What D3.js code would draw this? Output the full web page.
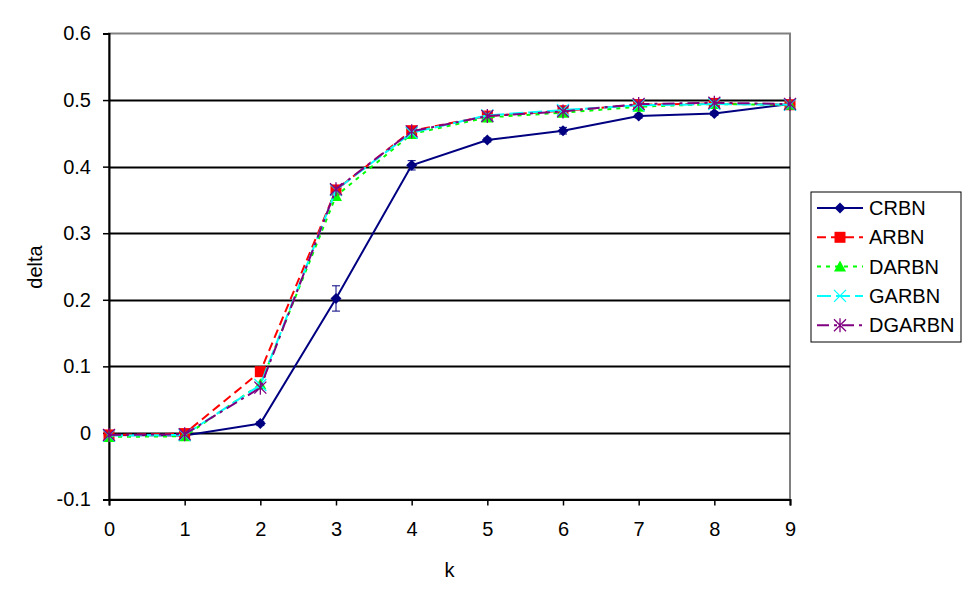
<!DOCTYPE html>
<html><head><meta charset="utf-8">
<script src="https://cdn.jsdelivr.net/npm/d3@7"></script>
<style>body{margin:0;background:#fff}svg{display:block}text{font-family:"Liberation Sans",Arial,sans-serif;fill:#000}</style>
</head><body><svg id="c" width="970" height="603"></svg>
<script>
const kValues = [0,1,2,3,4,5,6,7,8,9];
const seriesNames = ["CRBN","ARBN","DARBN","GARBN","DGARBN"];
const crbn   = [-0.003,-0.004,0.014,0.202,0.402,0.440,0.454,0.476,0.480,0.494];
const crbnErr= [0,0,0.003,0.019,0.007,0.003,0.005,0.003,0.003,0.002];
const arbn   = [-0.003,-0.001,0.092,0.365,0.454,0.476,0.484,0.493,0.495,0.493];
const darbn  = [-0.006,-0.005,0.073,0.356,0.449,0.474,0.481,0.490,0.494,0.493];
const garbn  = [-0.004,-0.003,0.072,0.365,0.451,0.477,0.485,0.492,0.494,0.493];
const dgarbn = [-0.003,-0.002,0.068,0.366,0.453,0.476,0.483,0.494,0.496,0.494];
const yTicks = [-0.1,0,0.1,0.2,0.3,0.4,0.5,0.6];

const styles = [
  {color:"#000080", dash:null, marker:"diamond"},
  {color:"#FF0000", dash:"9,5", marker:"square"},
  {color:"#00FF00", dash:"4,5", marker:"triangle"},
  {color:"#00FFFF", dash:"14,5", marker:"x"},
  {color:"#800080", dash:"12,5,3,5", marker:"star"}
];
const allSeries = [crbn,arbn,darbn,garbn,dgarbn];

const svg = d3.select("#c");
const L=109,R=790,T=33.5,B=499.5;
const x = d3.scaleLinear().domain([0,9]).range([L,R]);
const y = d3.scaleLinear().domain([-0.1,0.6]).range([B,T]);

svg.append("rect").attr("x",L).attr("y",T).attr("width",R-L).attr("height",B-T)
  .attr("fill","#fff").attr("stroke","#808080").attr("stroke-width",2);
svg.append("g").selectAll("line").data(yTicks.filter(v=>v>-0.1&&v<0.6)).join("line")
  .attr("x1",L).attr("x2",R).attr("y1",d=>Math.round(y(d))+0.5).attr("y2",d=>Math.round(y(d))+0.5)
  .attr("stroke","#000").attr("stroke-width",2);

const fmt = d=> Math.abs(d)<1e-9?"0":(d<0?"-":"")+Math.abs(d).toFixed(1);
const yAxis = svg.append("g").attr("transform",`translate(${L},0)`)
  .call(d3.axisLeft(y).tickValues(yTicks).tickFormat(fmt).tickSize(6).tickPadding(12));
const xAxis = svg.append("g").attr("transform",`translate(0,${B})`)
  .call(d3.axisBottom(x).tickValues(kValues).tickFormat(d3.format("d")).tickSize(6).tickPadding(16));
[yAxis,xAxis].forEach(a=>{
  a.attr("font-size",20).attr("font-family","Liberation Sans, Arial, sans-serif");
  a.select(".domain").attr("stroke","#000").attr("stroke-width",2);
  a.selectAll(".tick line").attr("stroke","#000").attr("stroke-width",1.5);
  a.selectAll("text").attr("font-size",20).attr("fill","#000");
});

svg.append("text").attr("x",(L+R)/2).attr("y",577).attr("text-anchor","middle").attr("font-size",20).text("k");
svg.append("text").attr("transform","translate(42,267) rotate(-90)").attr("text-anchor","middle").attr("font-size",20).text("delta");

function drawMarker(g, type, cx, cy, color){
  if(type==="diamond"){
    g.append("path").attr("d",`M${cx},${cy-5.5}L${cx+5.5},${cy}L${cx},${cy+5.5}L${cx-5.5},${cy}Z`).attr("fill",color);
  } else if(type==="square"){
    g.append("rect").attr("x",cx-5.5).attr("y",cy-5.5).attr("width",11).attr("height",11).attr("fill",color);
  } else if(type==="triangle"){
    g.append("path").attr("d",`M${cx},${cy-6}L${cx+6},${cy+5}L${cx-6},${cy+5}Z`).attr("fill",color);
  } else if(type==="x"){
    g.append("path").attr("d",`M${cx-6},${cy-6}L${cx+6},${cy+6}M${cx-6},${cy+6}L${cx+6},${cy-6}`).attr("stroke",color).attr("stroke-width",1.3);
  } else if(type==="star"){
    g.append("path").attr("d",`M${cx-6},${cy-6}L${cx+6},${cy+6}M${cx-6},${cy+6}L${cx+6},${cy-6}M${cx},${cy-7}L${cx},${cy+7}`).attr("stroke",color).attr("stroke-width",1.3);
  }
}

const eg = svg.append("g");
kValues.forEach((k,i)=>{
  if(crbnErr[i]<=0) return;
  const cx=x(k), y1=y(crbn[i]+crbnErr[i]), y2=y(crbn[i]-crbnErr[i]);
  eg.append("line").attr("x1",cx).attr("x2",cx).attr("y1",y1).attr("y2",y2).attr("stroke","#000080").attr("stroke-width",1);
  [y1,y2].forEach(yy=>eg.append("line").attr("x1",cx-4).attr("x2",cx+4).attr("y1",yy).attr("y2",yy).attr("stroke","#000080").attr("stroke-width",1));
});

const line = d3.line().x((d,i)=>x(kValues[i])).y(d=>y(d));
allSeries.forEach((s,si)=>{
  const st=styles[si];
  const g=svg.append("g");
  g.append("path").datum(s).attr("d",line).attr("fill","none").attr("stroke",st.color)
    .attr("stroke-width",2).attr("stroke-dasharray",st.dash);
  s.forEach((v,i)=>drawMarker(g,st.marker,x(kValues[i]),y(v),st.color));
});

const lg = svg.append("g");
lg.append("rect").attr("x",811).attr("y",192).attr("width",150).attr("height",150)
  .attr("fill","#fff").attr("stroke","#000").attr("stroke-width",1);
seriesNames.forEach((n,i)=>{
  const st=styles[i], yy=208+i*29.3;
  lg.append("line").attr("x1",817).attr("x2",863).attr("y1",yy).attr("y2",yy)
    .attr("stroke",st.color).attr("stroke-width",2).attr("stroke-dasharray",st.dash);
  drawMarker(lg,st.marker,840,yy,st.color);
  lg.append("text").attr("x",869).attr("y",yy+7).attr("font-size",20).text(n);
});
</script></body></html>
